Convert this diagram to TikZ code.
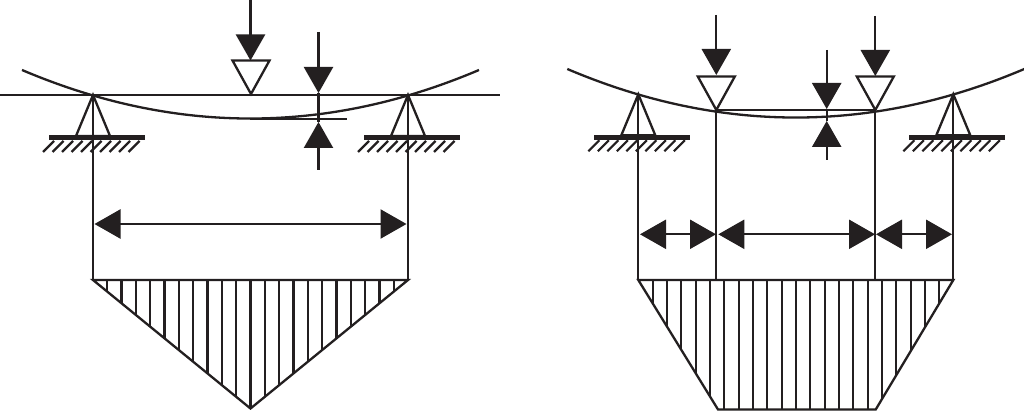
\documentclass[tikz,border=0pt]{standalone}
\usepackage{amsmath}
\usetikzlibrary{arrows.meta}
\definecolor{ink}{RGB}{35,31,32}
\tikzset{
  beam/.style={draw=ink, line width=2.3pt},
  thinbeam/.style={draw=ink, line width=2pt},
  heavy/.style={draw=ink, line width=2.3pt, -{Triangle[length=26pt,width=29pt]}},
  heavyboth/.style={draw=ink, line width=2.3pt, {Triangle[length=26pt,width=29pt]}-{Triangle[length=26pt,width=29pt]}},
  groundbar/.style={draw=ink, line width=5pt},
  hatchline/.style={draw=ink, line width=2.2pt},
  stripe/.style={draw=ink, line width=2.1pt}
}
\newcommand{\bmsupport}[2] {\coordinate (#2) at (#1);
  \draw [beam, fill=white] (#2) -- ++(-17,41) -- ++(34,0) -- cycle;
  \draw [groundbar] (#2) ++(-44,42.8) -- ++(96,0);
  \foreach \i in {0,...,9} {\draw [hatchline] (#2) ++(-50+9.5*\i,57) -- ++(11,-11);}
}
\newcommand{\bmload}[3] {\coordinate (#3) at (#1);
  \draw [beam, fill=white, line join=miter] (#3) -- ++(-18.5,-33.5) -- ++(37,0) -- cycle;
  \coordinate (#3head) at (#2);
  \draw [heavy] (#3head) -- ++(0,60);
}
\newcommand{\bmstripes}[2] {\foreach \k in {-10,...,10} {\draw [stripe] (#1+14.33*\k,278) -- ++(0,#2);}}

\begin{document}
\begin{tikzpicture}[x=1pt,y=-1pt]
\useasboundingbox [fill=white] (0,0) rectangle (1024,411);

% left beam
\coordinate (lineLa) at (0,95);
\coordinate (lineLb) at (500,95);
\draw [thinbeam] (lineLa) -- (lineLb);
\bmsupport {93,95} {supLa};
\bmsupport {408,95} {supLb};
\draw [beam] (supLa) -- (93,280);
\draw [beam] (supLb) -- (408,280);
\bmload {251,94} {250.5,0.5} {loadL};
\coordinate (curveLa) at (22,70);
\coordinate (curveLb) at (479,70);
\draw [beam] (curveLa) .. controls (174.3,134.7) and (326.7,134.7) .. (curveLb);
\coordinate (flatLa) at (250,119);
\coordinate (flatLb) at (347,119);
\draw [thinbeam] (flatLa) -- (flatLb);

% deflection, left
\coordinate (defLa) at (318.5,32);
\coordinate (defLb) at (318.5,93);
\coordinate (defLc) at (318.5,122);
\coordinate (defLd) at (318.5,170);
\draw [heavy] (defLa) -- (defLb);
\draw [heavy] (defLd) -- (defLc);
\draw [beam] (defLb) -- (defLc);

% span, left
\coordinate (spanLa) at (94.5,224);
\coordinate (spanLb) at (406.5,224);
\draw [heavyboth] (spanLa) -- (spanLb);

% moment, left
\coordinate (momLa) at (93,280);
\coordinate (momLb) at (408,280);
\coordinate (momLc) at (250.5,408.5);
\begin{scope}
\clip (momLa) -- (momLb) -- (momLc) -- cycle;
\bmstripes {250.5} {135}
\end{scope}
\draw [beam, line join=miter] (momLa) -- (momLb) -- (momLc) -- cycle;

% right beam
\bmsupport {638.3,94.3} {supRa};
\bmsupport {953.3,94.3} {supRb};
\draw [beam] (supRa) -- (638.3,280);
\draw [beam] (supRb) -- (953.3,280);
\bmload {716.3,110} {716.3,15} {loadRa};
\bmload {875.3,110} {875.3,16} {loadRb};
\coordinate (curveRa) at (567.3,69);
\coordinate (curveRb) at (1024.3,69);
\draw [beam] (curveRa) .. controls (719.6,133.7) and (872,133.7) .. (curveRb);
\draw [thinbeam] (loadRa) -- (loadRb);
\draw [beam] (loadRa) -- (716.3,281);
\draw [beam] (loadRb) -- (875.3,281);

% deflection, right
\coordinate (defRa) at (826.7,50);
\coordinate (defRb) at (826.7,109);
\coordinate (defRc) at (826.7,121);
\coordinate (defRd) at (826.7,160);
\draw [heavy] (defRa) -- (defRb);
\draw [heavy] (defRd) -- (defRc);
\draw [beam] (defRb) -- (defRc);

% spans, right
\coordinate (spanRa) at (640,234.3);
\coordinate (spanRb) at (716,234.3);
\coordinate (spanRc) at (718.3,234.3);
\coordinate (spanRd) at (875,234.3);
\coordinate (spanRe) at (876,234.3);
\coordinate (spanRf) at (952,234.3);
\draw [heavyboth] (spanRa) -- (spanRb);
\draw [heavyboth] (spanRc) -- (spanRd);
\draw [heavyboth] (spanRe) -- (spanRf);

% moment, right
\coordinate (momRa) at (638.3,280);
\coordinate (momRb) at (953.3,280);
\coordinate (momRc) at (875.7,409.5);
\coordinate (momRd) at (718,409.5);
\begin{scope}
\clip (momRa) -- (momRb) -- (momRc) -- (momRd) -- cycle;
\bmstripes {796} {135}
\end{scope}
\draw [beam, line join=miter] (momRa) -- (momRb) -- (momRc) -- (momRd) -- cycle;
\end{tikzpicture}
\end{document}
